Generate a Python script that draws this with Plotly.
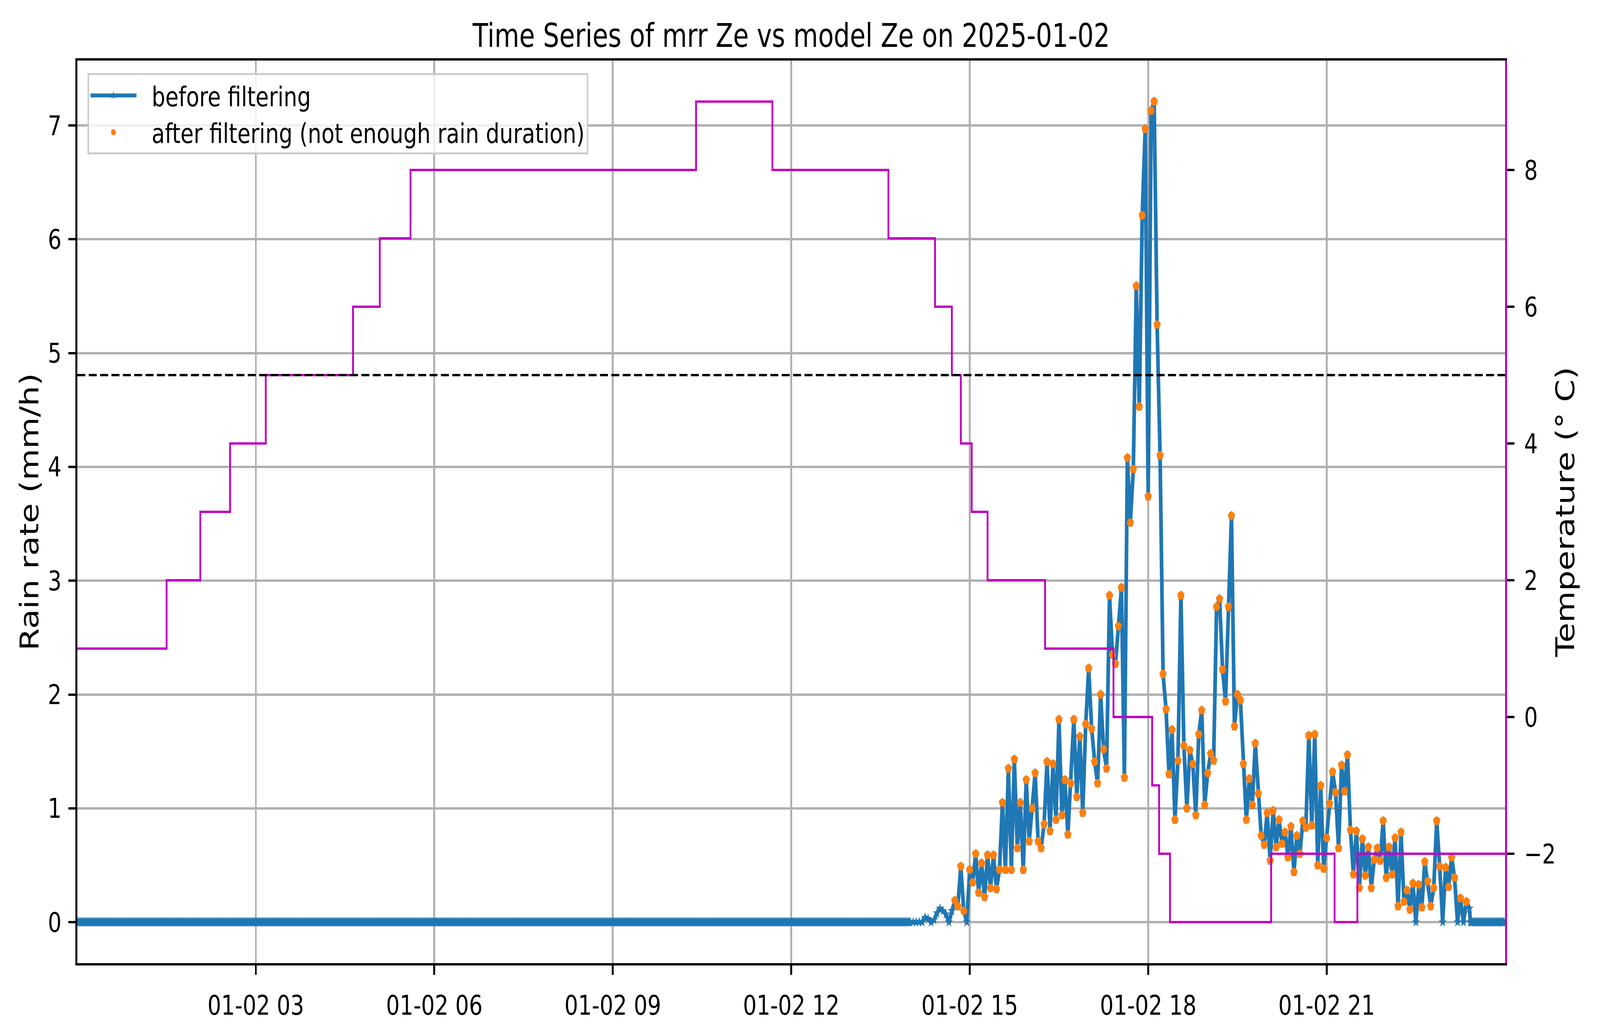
import pandas as pd
import plotly.graph_objects as go
from plotly.subplots import make_subplots

day = "2025-01-02"

# rain rate (mm/h)
# no rain before 14:00, one value per minute
dry_morning = [0.0] * 840
# 14:00 - 23:24, one value every 3 minutes, one row per hour
rain_14h = [0, 0, 0, 0, 0, 0.04, 0.03, 0.0, 0.02, 0.08, 0.12, 0.10, 0.07, 0.0, 0.1, 0.19, 0.14, 0.49, 0.10, 0.0]
rain_15h = [0.46, 0.35, 0.6, 0.26, 0.52, 0.22, 0.59, 0.3, 0.59, 0.29, 0.46, 1.05, 0.46, 1.35, 0.46, 1.43, 0.65, 1.05, 0.46, 1.25]
rain_16h = [0.71, 1.0, 1.31, 0.71, 0.65, 0.86, 1.41, 0.8, 1.39, 0.9, 1.78, 0.94, 1.25, 0.77, 1.22, 1.78, 1.1, 1.63, 0.96, 1.74]
rain_17h = [2.23, 1.7, 1.41, 1.22, 2.0, 1.52, 1.35, 2.87, 2.35, 2.27, 2.6, 2.94, 1.27, 4.08, 3.51, 3.98, 5.59, 4.53, 6.21, 6.97]
rain_18h = [3.74, 7.13, 7.21, 5.25, 4.1, 2.18, 1.87, 1.3, 1.69, 0.9, 1.42, 2.87, 1.55, 1.0, 1.51, 1.39, 0.94, 1.65, 1.86, 1.03]
rain_19h = [1.31, 1.48, 1.42, 2.77, 2.84, 2.22, 1.94, 2.77, 3.57, 1.72, 2.0, 1.95, 1.39, 0.9, 1.26, 1.03, 1.57, 1.13, 0.76, 0.68]
rain_20h = [0.96, 0.54, 0.98, 0.66, 0.90, 0.69, 0.79, 0.57, 0.84, 0.44, 0.76, 0.6, 0.89, 0.83, 1.64, 0.85, 1.65, 0.5, 1.2, 0.47]
rain_21h = [0.74, 1.04, 1.32, 1.14, 0.65, 1.38, 1.15, 1.47, 0.81, 0.42, 0.8, 0.3, 0.73, 0.41, 0.66, 0.30, 0.55, 0.65, 0.54, 0.89]
rain_22h = [0.39, 0.66, 0.42, 0.74, 0.14, 0.79, 0.18, 0.28, 0.11, 0.34, 0.0, 0.33, 0.13, 0.53, 0.36, 0.14, 0.30, 0.89, 0.49, 0.0]
rain_23h = [0.48, 0.31, 0.57, 0.39, 0.0, 0.21, 0.0, 0.18, 0.12]
# dry again from 23:25, one value per minute
dry_evening = [0.0] * 35

# points kept by the duration filter
filter_start = day + " 14:45"
filter_end = day + " 23:21"

# model temperature (deg C), value starts at the given time
temp_times = ["00:00", "01:30", "02:04", "02:34", "03:10", "04:38", "05:05", "05:36",
              "10:24", "11:41", "13:38", "14:25", "14:42", "14:51", "15:02", "15:18",
              "16:16", "17:25", "18:04", "18:11", "18:22", "20:04", "21:08", "21:31"]
temp_values = [1, 2, 3, 4, 5, 6, 7, 8, 9, 8, 7, 6, 5, 4, 3, 2, 1, 0, -1, -2, -3, -2, -3, -2]
temp_threshold = 5

W, H = 5211, 2631

wet = (rain_14h + rain_15h + rain_16h + rain_17h + rain_18h
       + rain_19h + rain_20h + rain_21h + rain_22h + rain_23h)
t_morning = pd.date_range(day + " 00:00", periods=len(dry_morning), freq="1min")
t_wet = pd.date_range(day + " 14:00", periods=len(wet), freq="3min")
t_evening = pd.date_range(day + " 23:25", periods=len(dry_evening), freq="1min")
rain = pd.Series(dry_morning + wet + dry_evening, index=t_morning.append(t_wet).append(t_evening))
kept = rain[(rain.index >= filter_start) & (rain.index <= filter_end) & (rain > 0)]

temp_x = [pd.Timestamp(day + " " + t) for t in temp_times] + [pd.Timestamp(day) + pd.Timedelta(hours=24)]
temp_y = temp_values + [temp_values[-1]]

fig = make_subplots(specs=[[{"secondary_y": True}]])

fig.add_trace(go.Scatter(x=rain.index, y=rain.values, mode="lines+markers", name="\u00a0\u00a0before filtering",
                         line=dict(color="#1f77b4", width=12),
                         marker=dict(symbol="star", size=20, color="#1f77b4")),
              secondary_y=False)
fig.add_trace(go.Scatter(x=kept.index, y=kept.values, mode="markers",
                         name="\u00a0\u00a0after filtering (not enough rain duration)",
                         marker=dict(color="#ff7f0e", size=22)),
              secondary_y=False)
fig.add_trace(go.Scatter(x=temp_x, y=temp_y, mode="lines", showlegend=False,
                         line=dict(color="#bf00bf", width=6, shape="hv")),
              secondary_y=True)

fig.add_shape(type="line", xref="x domain", x0=0, x1=1, yref="y2", y0=temp_threshold, y1=temp_threshold,
              line=dict(color="black", width=6, dash="26px,11px"), layer="above")

fig.update_layout(
    width=W, height=H,
    margin=dict(l=252, r=309, t=155, b=166, autoexpand=False),
    paper_bgcolor="white", plot_bgcolor="white",
    font=dict(family="DejaVu Sans", size=70, color="black"),
    title=dict(text="Time Series of mrr Ze vs model Ze on " + day, font=dict(size=83),
               x=0.5, xref="paper", xanchor="center", y=1, yref="paper", yanchor="bottom",
               pad=dict(b=35)),
    legend=dict(x=0.007, y=0.986, xanchor="left", yanchor="top",
                bgcolor="rgba(255,255,255,0.8)", bordercolor="#cccccc", borderwidth=5,
                font=dict(size=70), itemwidth=150),
)

fig.update_xaxes(domain=[0, 1],
                 range=[pd.Timestamp(day), pd.Timestamp(day) + pd.Timedelta(hours=24)],
                 tickvals=pd.date_range(day + " 03:00", periods=7, freq="3h"),
                 tickformat="%m-%d %H", automargin=False,
                 showgrid=True, gridcolor="#b0b0b0", gridwidth=5.5,
                 showline=True, linecolor="black", linewidth=5.5, mirror=True,
                 ticks="outside", ticklen=24, tickwidth=5.5, tickcolor="black",
                 ticklabelstandoff=18)

fig.update_yaxes(range=[-0.36, 7.57], dtick=1, title_text="Rain rate (mm/h)",
                 title_font=dict(size=83), title_standoff=5, automargin=False,
                 showgrid=True, gridcolor="#b0b0b0", gridwidth=5.5, zeroline=False,
                 showline=True, linecolor="black", linewidth=5.5,
                 ticks="outside", ticklen=24, tickwidth=5.5, tickcolor="black",
                 ticklabelstandoff=8, secondary_y=False)
fig.update_yaxes(range=[-3.6, 9.6], tickvals=[-2, 0, 2, 4, 6, 8], title_text="Temperature (° C)",
                 title_font=dict(size=83), title_standoff=5, automargin=False,
                 showgrid=False, zeroline=False,
                 showline=True, linecolor="#bf00bf", linewidth=5.5,
                 ticks="outside", ticklen=24, tickwidth=5.5, tickcolor="black",
                 ticklabelstandoff=18, secondary_y=True)

# the window may be smaller than the figure: scale the figure to fill it
fit_js = """
var gd = document.getElementById('{plot_id}');
function fitWindow() {
  var sx = window.innerWidth / %d, sy = window.innerHeight / %d;
  gd.style.transformOrigin = '0 0';
  gd.style.transform = 'scale(' + sx + ',' + sy + ')';
}
fitWindow();
window.addEventListener('resize', fitWindow);
""" % (W, H)

fig.write_html("out.html", post_script=fit_js, config={"displayModeBar": False})
with open("out.html", encoding="utf-8") as f:
    page = f.read()
page = page.replace("<head>", "<head><style>html,body{margin:0;padding:0;overflow:hidden;}</style>", 1)
with open("out.html", "w", encoding="utf-8") as f:
    f.write(page)
